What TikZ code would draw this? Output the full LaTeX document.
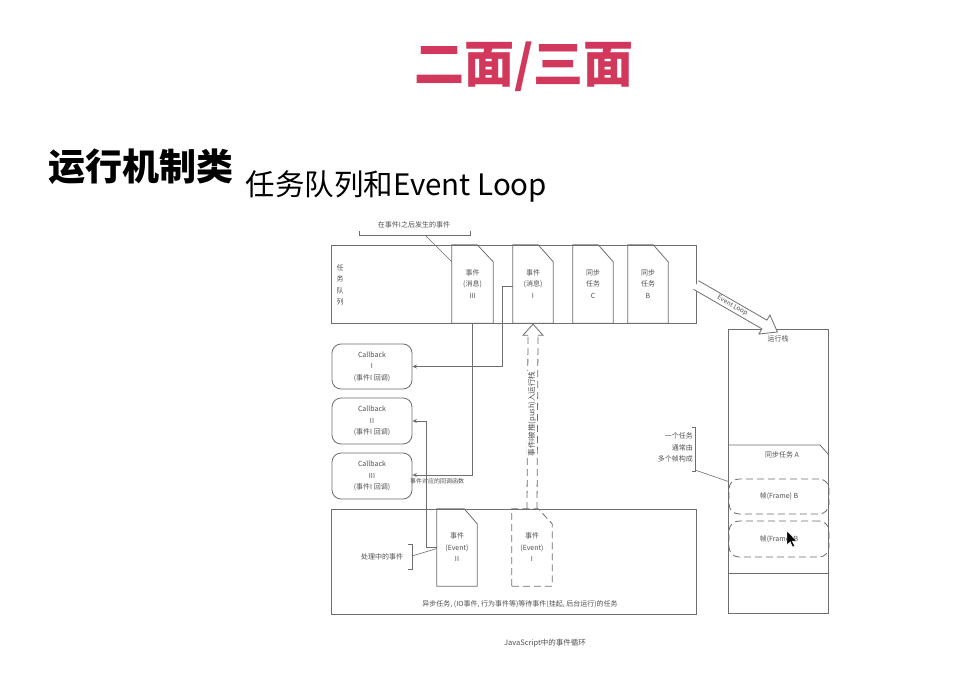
\documentclass[tikz,border=0pt]{standalone}
\usepackage{fontspec}
\setmainfont{Noto Sans CJK SC}
\usetikzlibrary{arrows.meta,calc}
\definecolor{lc}{HTML}{6E6E6E}
\definecolor{tc}{HTML}{505050}
\definecolor{headred}{HTML}{D2385C}

% folded-corner box drawn over a named node: node, corner width, corner height
\newcommand\docshape[4][]{%
  \draw[ln,#1] (#2.south west) -- (#2.north west) -- ([xshift=-#3pt]#2.north east)
    -- ([yshift=-#4pt]#2.north east) -- (#2.south east) -- cycle;}

\begin{document}
\begin{tikzpicture}[x=1pt,y=-1pt,
  ln/.style={draw=lc, line width=0.8pt},
  txt/.style={text=tc, font=\fontsize{7}{11.5}\selectfont, align=center, inner sep=0pt},
  slot/.style={txt, minimum width=#1, minimum height=78pt},
  slot/.default=40pt,
  cbbox/.style={ln, txt, rounded corners=9pt, minimum width=80pt, minimum height=#1},
  arr/.style={ln, -{Stealth[length=4.5pt,width=4pt]}},
  dsh/.style={dash pattern=on 7pt off 4pt},
  framebox/.style={ln, dsh, txt, rounded corners=10pt, minimum width=100pt, minimum height=#1}
]
\useasboundingbox[fill=white] (0,0) rectangle (976,679);

% headings
\node[text=headred, font=\fontsize{50}{50}\selectfont\bfseries] (title) at (524,67) {二面/三面};
\node[anchor=west, font=\fontsize{37}{37}\selectfont\bfseries] (h1) at (45,167) {运行机制类};
\node[anchor=west, font=\fontsize{29.5}{30}\selectfont] (h2) at (242,186) {任务队列和Event Loop};

% ---------- task queue ----------
\node[ln, minimum width=365pt, minimum height=78pt, inner sep=0pt] (queue) at (513.5,284) {};
\node[txt] (qlabel) at (340,285) {任\\务\\队\\列};
\node[slot=41pt] (q3) at (472.5,284) {事件\\(消息)\\III};
\node[slot] (q1) at (533,284) {事件\\(消息)\\I};
\node[slot] (qc) at (593,284) {同步\\任务\\C};
\node[slot] (qb) at (648,284) {同步\\任务\\B};
\docshape{q3}{16}{17}
\docshape{q1}{15}{17}
\docshape{qc}{15}{17}
\docshape{qb}{15}{17}

% note over the later events
\node[txt] (later) at (414,225) {在事件I之后发生的事件};
\draw[ln, line width=0.6pt] (359,231) -- (359,235) -- (470,235) -- (470,231);
\draw[ln, line width=0.6pt] (425,235) -- ([yshift=-17pt]q3.north west);

% ---------- callbacks ----------
\node[cbbox=45pt] (cb1) at (372,366.5) {Callback\\I\\(事件I 回调)};
\node[cbbox=46pt] (cb2) at (372,421) {Callback\\II\\(事件I 回调)};
\node[cbbox=46pt] (cb3) at (372,476) {Callback\\III\\(事件I 回调)};

% ---------- pending tasks ----------
\node[ln, minimum width=365pt, minimum height=105pt, inner sep=0pt] (pending) at (513.5,561.5) {};
\node[txt, minimum width=40pt, minimum height=77pt] (ev2) at (457,547.5) {事件\\(Event)\\II};
\node[txt, minimum width=40pt, minimum height=77pt] (ev1) at (532,547.5) {事件\\(Event)\\I};
\docshape{ev2}{13}{15}
\docshape[dsh]{ev1}{14}{15}
\node[txt] (busy) at (382,557) {处理中的事件};
\draw[ln, line width=0.6pt] (408,544) -- (412,544) -- (412,569) -- (408,569);
\draw[ln, line width=0.6pt] (412,556) -- ([yshift=-1pt]ev2.west);
\node[txt] (waiting) at (520,604.5) {异步任务, (IO事件, 行为事件等)等待事件(挂起, 后台运行)的任务};
\node[txt, font=\fontsize{7.5}{9}\selectfont] (caption) at (545,643) {JavaScript中的事件循环};

% ---------- connectors to callbacks ----------
\draw[arr] ([yshift=-2pt]q1.west) -- ++(-10,0) |- (cb1.east);
\draw[arr] (q3.south) |- ([yshift=1pt]cb3.east);
\draw[arr] (ev2.west) -- ++(-10,0) |- (cb2.east);
\node[txt, font=\fontsize{6}{7}\selectfont] (cbnote) at (437,481) {事件对应的回调函数};

% hollow dashed arrow: event I pushed back
\draw[ln, dsh] ([xshift=-5pt]ev1.north) -- ([xshift=-5pt,yshift=-12pt]q1.south);
\draw[ln, dsh] ([xshift=5pt]ev1.north) -- ([xshift=5pt,yshift=-12pt]q1.south);
\draw[ln] ([xshift=-5pt,yshift=-12pt]q1.south) -- ([xshift=-10pt,yshift=-12pt]q1.south)
  -- ([yshift=-1pt]q1.south) -- ([xshift=10pt,yshift=-12pt]q1.south) -- ([xshift=5pt,yshift=-12pt]q1.south);
\node[txt, rotate=90, fill=white, inner sep=0.5pt, font=\fontsize{7.5}{8}\selectfont] (pushnote) at (532,414) {事件I被推(push)入运行栈};

% ---------- run stack ----------
\node[ln, minimum width=100pt, minimum height=284pt, inner sep=0pt] (stack) at (778.5,471.5) {};
\node[txt] (stacklabel) at (778,339) {运行栈};
\draw[ln] (stack.west |- 0,445) -- (820,445) -- (stack.east |- 0,455);
\node[txt] (taskA) at (782,455) {同步任务 A};
\draw[ln] (stack.west |- 0,573) -- (stack.east |- 0,573);
\node[framebox=35pt] (f1) at (779,496.5) {帧(Frame) B};
\node[framebox=36pt] (f2) at (779,539) {帧(Frame) B};

\node[txt, align=right, anchor=east] (framenote) at (693,447.5) {一个任务\\通常由\\多个帧构成};
\draw[ln, line width=0.6pt] (692,427) -- (695,427) -- (695,471) -- (692,471);
\draw[ln, line width=0.6pt] (695,470) -- ([yshift=-3pt]f1.north west);

% ---------- Event Loop arrow ----------
\begin{scope}[shift={(696,285)}, rotate=-30]
  \draw[ln, fill=white] (0,-5) -- (79,-5) -- (79,-11) -- (94,0) -- (79,11) -- (79,5) -- (0,5);
  \node[txt, transform shape, font=\fontsize{6.5}{7}\selectfont] (loop) at (42,0) {Event Loop};
\end{scope}

% mouse pointer
\begin{scope}[shift={(787,531)}]
  \fill[black, draw=white, line width=0.4pt] (0,0) -- (0,14) -- (3.2,10.8) -- (5.6,16) -- (7.6,15) -- (5.2,10) -- (9.6,10) -- cycle;
\end{scope}
\end{tikzpicture}
\end{document}
